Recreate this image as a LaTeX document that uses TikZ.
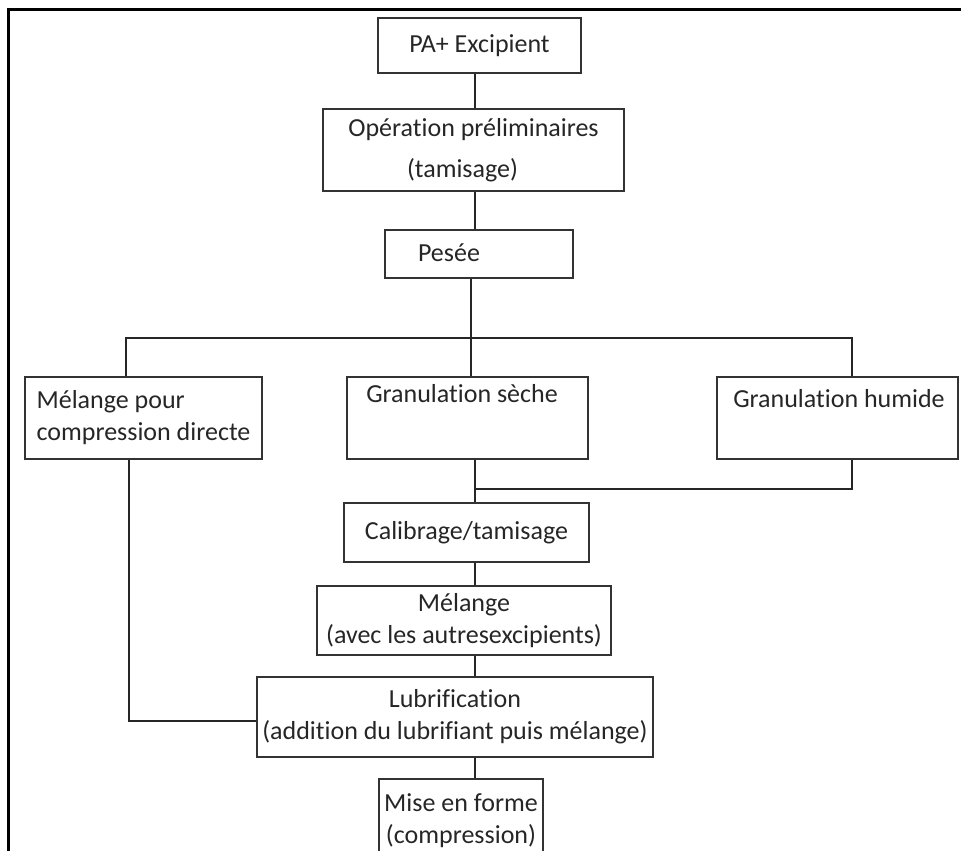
\documentclass[tikz,border=0pt]{standalone}
\usepackage{fontspec}
\setmainfont{Carlito}[Ligatures=NoCommon]
\begin{document}
\begin{tikzpicture}[x=1pt,y=-1pt,
  every node/.style={font=\fontsize{26}{32}\selectfont, text=black!85},
  etape/.style={draw=black!80, line width=1.6pt, inner sep=0pt, align=center},
  lien/.style={draw=black!85, line width=1.4pt}]
\clip (0,0) rectangle (961,851);

% cadre
\draw[line width=3pt] (962,10) -- (8,10) -- (8,853);

% etapes
\node[etape, minimum width=203, minimum height=55] (pa) at (479.5,45.5) {PA+ Excipient};
\node[etape, minimum width=301, minimum height=82, font=\fontsize{26}{41}\selectfont] (prelim) at (473.5,150)
  {Opération préliminaires\\\hspace*{-22pt}(tamisage)};
\node[etape, minimum width=188, minimum height=48] (pesee) at (479,254) {};
\node (pesee-t) at (449,253) {Pesée};

\node[etape, minimum width=237, minimum height=82, align=left] (direct) at (143.5,418)
  {Mélange pour\\compression directe};
\node[etape, minimum width=241, minimum height=82] (seche) at (467.5,418) {};
\node (seche-t) at (462,394) {Granulation sèche};
\node[etape, minimum width=241, minimum height=82] (humide) at (837.5,418) {};
\node (humide-t) at (839,399) {Granulation humide};

\node[etape, minimum width=245, minimum height=59] (calib) at (466.5,532.5) {Calibrage/tamisage};
\node[etape, minimum width=294, minimum height=69] (melange) at (464,620.5)
  {Mélange\\(avec les autresexcipients)};
\node[etape, minimum width=396, minimum height=80] (lubri) at (455,717)
  {Lubrification\\(addition du lubrifiant puis mélange)};
\node[etape, minimum width=164, minimum height=83] (mise) at (461,820.5)
  {Mise en forme\\(compression)};

% liaisons
\coordinate (axe) at (475,0);
\coordinate (bus) at (471,338);
\coordinate (g) at (126,338);
\coordinate (d) at (852,338);
\coordinate (jonction) at (475,489);
\coordinate (retour) at (129,0);

\draw[lien] (pa.south -| axe) -- (prelim.north -| axe);
\draw[lien] (prelim.south -| axe) -- (pesee.north -| axe);
\draw[lien] (pesee.south -| bus) -- (bus);
\draw[lien] (direct.north -| g) -- (g) -- (d) -- (humide.north -| d);
\draw[lien] (bus) -- (seche.north -| bus);
\draw[lien] (seche.south -| jonction) -- (calib.north -| jonction);
\draw[lien] (humide.south -| d) |- (jonction);
\draw[lien] (calib.south -| axe) -- (melange.north -| axe);
\draw[lien] (melange.south -| axe) -- (lubri.north -| axe);
\draw[lien] (lubri.south -| axe) -- (mise.north -| axe);
\draw[lien] (direct.south -| retour) |- ([yshift=-4pt]lubri.west);
\end{tikzpicture}
\end{document}
